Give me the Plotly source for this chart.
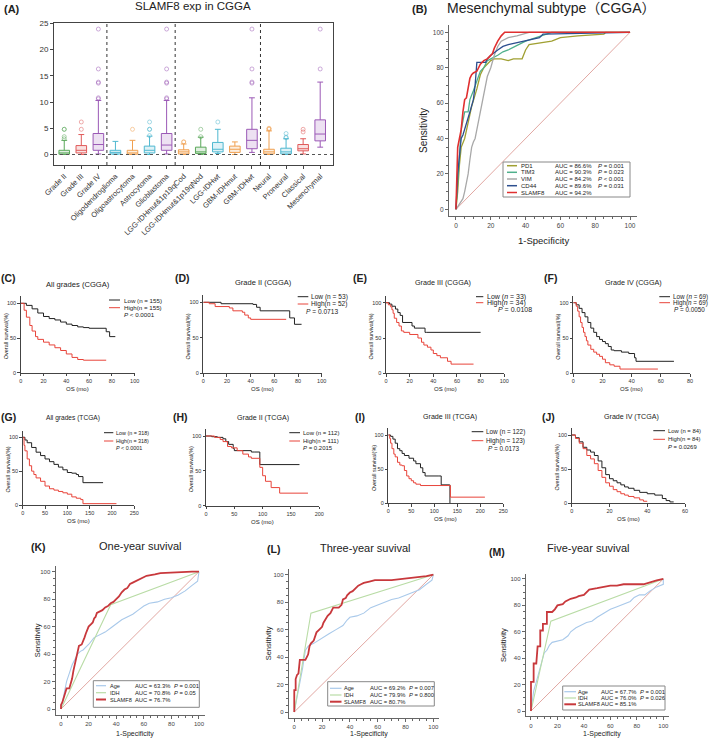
import plotly.graph_objects as go

W, H = 709, 738
FONT = "Arial, Liberation Sans, Noto Sans CJK SC, sans-serif"

# ---------------- Panel A data ----------------
a_cats = ["Grade II", "Grade III", "Grade IV", "Oligodendroglioma", "Oligoastrocytoma",
          "Astrocytoma", "Glioblastoma", "LGG-IDHmut&1p19qCod", "LGG-IDHmut&1p19qNod",
          "LGG-IDHwt", "GBM-IDHmut", "GBM-IDHwt", "Neural", "Proneural", "Classical", "Mesenchymal"]
a_q1 = [0.05, 0.3, 0.8, 0.1, 0.05, 0.3, 0.8, 0.1, 0.2, 0.5, 0.4, 1.1, 0.1, 0.1, 0.7, 2.6]
a_med = [0.3, 0.8, 1.9, 0.4, 0.3, 0.8, 1.8, 0.5, 0.5, 1.0, 1.0, 2.7, 0.5, 0.5, 1.1, 3.9]
a_q3 = [0.8, 1.7, 4.0, 0.8, 0.8, 1.6, 4.0, 0.9, 1.4, 2.3, 1.6, 4.8, 1.0, 1.2, 1.9, 6.6]
a_lo = [0.0, 0.0, 0.1, 0.0, 0.0, 0.0, 0.1, 0.0, 0.0, 0.2, 0.0, 0.4, 0.0, 0.0, 0.1, 1.4]
a_hi = [2.7, 3.8, 10.3, 2.5, 2.7, 3.5, 10.3, 2.0, 3.3, 4.8, 2.4, 10.8, 4.5, 3.0, 3.0, 13.8]
a_out = [[3.0, 3.4, 4.8, 4.8], [4.8, 6.2], [10.6, 10.8, 13.6, 13.8, 16.3, 23.9],
         [], [4.8], [3.6, 4.8, 4.8, 6.2], [10.6, 10.8, 13.6, 13.8, 16.3, 23.9],
         [2.4, 2.4], [3.4, 4.8], [6.2], [], [13.6, 13.8, 16.3, 23.9],
         [4.8, 5.0, 4.9], [3.2, 3.3, 4.0], [4.3, 4.8], [16.3, 23.9]]
a_cols = ["#5aa85a", "#e05a5a", "#9b59b6", "#4fb8d0", "#f0a050", "#4fb8d0", "#9b59b6",
          "#f0a050", "#5aa85a", "#4fb8d0", "#f0a050", "#9b59b6", "#f0a050", "#4fb8d0", "#e05a5a", "#9b59b6"]
a_seps = [2.5, 6.5, 11.5]

# ---------------- Panel B data ----------------
b_names = ["PD1", "TIM3", "VIM", "CD44", "SLAMF8"]
b_auc = ["AUC = 86.6%", "AUC = 90.3%", "AUC = 84.2%", "AUC = 89.6%", "AUC = 94.2%"]
b_p = ["<i>P</i> = 0.001", "<i>P</i> = 0.023", "<i>P</i> < 0.001", "<i>P</i> = 0.031", ""]
b_cols = ["#a0a032", "#4fb08c", "#a8a8a8", "#2d4f8f", "#e03030"]
b_x = [
    [0, 1, 2, 3, 5, 7, 9, 12, 14, 16, 18, 20, 22, 26, 30, 33, 38, 40, 42, 48, 55, 60, 70, 85, 86, 100],
    [0, 1, 2, 3, 4, 5, 7, 8, 10, 12, 14, 16, 18, 20, 24, 27, 30, 34, 40, 46, 52, 55, 100],
    [0, 2, 4, 5, 6, 7, 8, 9, 10, 11, 12, 13, 14, 15, 16, 17, 18, 20, 21, 22, 24, 26, 30, 35, 42, 100],
    [0, 1, 2, 3, 4, 5, 6, 8, 10, 11, 12, 14, 17, 18, 20, 24, 27, 30, 35, 40, 45, 48, 50, 100],
    [0, 0.5, 1, 2, 3, 4, 4.5, 5, 6, 7, 8, 9, 10, 12, 13, 14, 16, 18, 19, 21, 22, 24, 26, 28, 100],
]
b_y = [
    [0, 10, 25, 35, 40, 50, 58, 68, 76, 80, 82, 84, 85, 85, 84, 85, 85, 90, 93, 94, 95, 97, 98, 99, 100, 100],
    [0, 15, 30, 45, 50, 55, 55, 62, 67, 72, 78, 80, 84, 85, 87, 89, 90, 92, 95, 97, 99, 100, 100],
    [0, 3, 6, 10, 15, 20, 28, 35, 38, 40, 45, 50, 55, 60, 65, 72, 75, 80, 84, 87, 92, 95, 97, 98, 100, 100],
    [0, 20, 30, 40, 42, 45, 48, 55, 62, 70, 83, 83, 83, 85, 87, 90, 92, 93, 94, 95, 96, 97, 99, 100],
    [0, 30, 35, 40, 45, 55, 58, 62, 63, 70, 74, 76, 77, 78, 80, 82, 84, 85, 86, 88, 91, 95, 98, 100, 100],
]

# ---------------- KM panels data ----------------
km_titles = ["All grades (CGGA)", "Grade II (CGGA)", "Grade III (CGGA)", "Grade IV (CGGA)",
             "All grades (TCGA)", "Grade II (TCGA)", "Grade III (TCGA)", "Grade IV (TCGA)"]
km_labels = ["(C)", "(D)", "(E)", "(F)", "(G)", "(H)", "(I)", "(J)"]
km_low_txt = ["Low (n = 155)", "Low (n = 53)", "Low (<i>n</i> = 33)", "Low (<i>n</i> = 69)",
              "Low (n = 318)", "Low (n = 112)", "Low (n = 122)", "Low (n = 84)"]
km_high_txt = ["High(n = 155)", "High(n = 52)", "High(<i>n</i> = 34)", "High(<i>n</i> = 69)",
               "High(n = 318)", "High(n = 111)", "High(n = 123)", "High(n = 84)"]
km_p = ["<i>P</i> < 0.0001", "<i>P</i> = 0.0713", "<i>P</i> = 0.0108", "<i>P</i> = 0.0050",
        "<i>P</i> < 0.0001", "<i>P</i> = 0.2015", "<i>P</i> = 0.0173", "<i>P</i> = 0.0269"]
km_xmax = [100, 100, 100, 80, 250, 200, 250, 60]
km_dtick = [20, 20, 20, 20, 50, 50, 50, 20]
km_low_x = [
    [0, 5, 10, 15, 20, 25, 30, 35, 40, 45, 50, 55, 60, 75, 78, 83],
    [0, 15, 42, 45, 48, 73, 77, 83],
    [0, 3, 5, 8, 10, 12, 14, 22, 24, 27, 33, 34, 80],
    [0, 2, 4, 6, 8, 10, 12, 14, 16, 18, 20, 22, 24, 26, 28, 33, 38, 42, 43, 69],
    [0, 5, 10, 20, 30, 40, 50, 60, 70, 80, 90, 100, 110, 120, 125, 135, 180],
    [0, 10, 20, 30, 35, 40, 48, 50, 80, 85, 95, 165],
    [0, 5, 10, 15, 20, 25, 30, 35, 45, 55, 60, 70, 75, 80, 110, 115, 133, 134],
    [0, 2, 4, 6, 8, 10, 12, 14, 16, 18, 20, 22, 24, 26, 28, 30, 33, 36, 40, 44, 48, 50, 52, 54],
]
km_low_y = [
    [100, 97, 92, 86, 81, 78, 76, 73, 70, 68, 66, 65, 64, 59, 52, 52],
    [100, 98, 97, 93, 88, 78, 69, 69],
    [100, 98, 95, 91, 86, 82, 72, 67, 64, 64, 58, 58, 58],
    [100, 97, 92, 86, 80, 72, 64, 58, 52, 48, 45, 42, 38, 33, 32, 30, 28, 22, 17, 17],
    [100, 96, 92, 85, 78, 73, 68, 64, 60, 56, 52, 48, 47, 45, 42, 33, 33],
    [100, 99, 98, 96, 92, 88, 82, 79, 77, 77, 59, 59],
    [100, 98, 94, 88, 80, 77, 73, 70, 66, 62, 58, 52, 45, 40, 40, 27, 27, 0],
    [100, 96, 90, 82, 78, 75, 70, 62, 52, 42, 36, 33, 30, 27, 24, 22, 19, 16, 14, 12, 7, 4, 2, 2],
]
km_high_x = [
    [0, 3, 5, 8, 10, 13, 15, 20, 25, 30, 35, 40, 45, 50, 55, 75],
    [0, 5, 10, 22, 25, 33, 35, 38, 40, 70],
    [0, 2, 4, 5, 6, 7, 9, 11, 13, 15, 20, 27, 30, 32, 35, 38, 40, 43, 46, 52, 55, 74],
    [0, 2, 3, 4, 5, 6, 7, 8, 9, 10, 12, 14, 16, 18, 20, 22, 25, 28, 32, 58],
    [0, 3, 5, 10, 15, 20, 25, 30, 40, 50, 60, 70, 80, 90, 100, 110, 120, 130, 135, 210],
    [0, 15, 25, 30, 38, 45, 55, 65, 75, 80, 95, 100, 105, 115, 130, 180],
    [0, 3, 5, 8, 12, 15, 20, 25, 30, 35, 40, 45, 50, 55, 60, 70, 135, 210],
    [0, 2, 4, 6, 8, 10, 12, 14, 16, 18, 20, 22, 24, 26, 28, 30, 33, 36, 38, 40],
]
km_high_y = [
    [100, 90, 80, 68, 60, 52, 48, 44, 40, 36, 32, 27, 22, 19, 18, 18],
    [100, 98, 94, 92, 88, 86, 82, 78, 76, 76],
    [100, 97, 94, 90, 85, 78, 72, 67, 60, 58, 55, 50, 44, 40, 37, 33, 28, 25, 22, 17, 13, 13],
    [100, 95, 88, 80, 72, 65, 58, 52, 46, 40, 34, 30, 27, 24, 20, 15, 12, 10, 6, 6],
    [100, 88, 80, 68, 58, 50, 45, 40, 35, 28, 24, 22, 20, 18, 16, 12, 10, 8, 2, 2],
    [100, 98, 95, 92, 85, 83, 79, 74, 70, 68, 55, 43, 35, 26, 18, 18],
    [100, 95, 88, 80, 72, 68, 60, 56, 55, 48, 40, 36, 33, 30, 28, 26, 9, 9],
    [100, 95, 88, 80, 70, 65, 58, 48, 38, 30, 25, 20, 17, 14, 12, 10, 8, 5, 3, 3],
]

# ---------------- K/L/M ROC data ----------------
roc_titles = ["One-year suvival", "Three-year suvival", "Five-year suvival"]
roc_labels = ["(K)", "(L)", "(M)"]
roc_names = ["Age", "IDH", "SLAMF8"]
roc_cols = ["#a9c9ea", "#b9dca6", "#c8383c"]
roc_auc = [["AUC = 63.3%", "AUC = 70.8%", "AUC = 76.7%"],
           ["AUC = 69.2%", "AUC = 79.9%", "AUC = 80.7%"],
           ["AUC = 67.7%", "AUC = 76.0%", "AUC = 85.1%"]]
roc_p = [["<i>P</i> = 0.001", "<i>P</i> = 0.05", ""],
         ["<i>P</i> = 0.007", "<i>P</i> = 0.800", ""],
         ["<i>P</i> = 0.001", "<i>P</i> = 0.026", ""]]
age_x = [
    [0, 2, 4, 6, 8, 10, 12, 14, 16, 18, 20, 24, 28, 32, 36, 40, 44, 48, 52, 56, 60, 64, 70, 75, 80, 85, 90, 95, 99, 100],
    [0, 2, 4, 6, 8, 10, 14, 20, 25, 30, 35, 38, 40, 45, 50, 55, 60, 65, 70, 75, 80, 85, 90, 95, 99, 100],
    [0, 2, 4, 6, 8, 10, 12, 14, 16, 20, 24, 28, 30, 34, 38, 42, 46, 50, 55, 60, 65, 70, 75, 78, 82, 86, 90, 95, 100, 100],
]
age_y = [
    [0, 10, 20, 26, 32, 36, 40, 42, 43, 45, 47, 52, 54, 56, 59, 62, 65, 67, 69, 72, 75, 77, 78, 80, 81, 83, 86, 90, 93, 100],
    [0, 10, 22, 32, 45, 48, 50, 54, 57, 60, 63, 67, 69, 70, 72, 76, 78, 80, 82, 83, 85, 87, 89, 93, 96, 100],
    [0, 15, 22, 30, 38, 44, 46, 50, 52, 53, 54, 57, 60, 63, 65, 67, 68, 71, 74, 77, 79, 81, 83, 86, 88, 88, 91, 94, 96, 100],
]
idh_x = [[0, 36, 100], [0, 12, 100], [0, 15, 100]]
idh_y = [[0, 76, 100], [0, 72, 100], [0, 68, 100]]
sl_x = [
    [0, 0, 1, 2, 3, 4, 6, 7, 8, 9, 10, 11, 12, 13, 15, 16, 17, 18, 19, 20, 22, 23, 24, 25, 26, 28, 30, 32, 34, 36, 38, 40, 42, 44, 46, 48, 50, 52, 54, 56, 58, 62, 68, 72, 95, 100],
    [0, 0, 1, 1, 2, 3, 4, 8, 9, 10, 11, 12, 14, 15, 16, 18, 20, 21, 22, 24, 26, 27, 28, 32, 34, 35, 37, 38, 40, 42, 44, 46, 48, 50, 54, 58, 70, 80, 90, 95, 100],
    [0, 0, 2, 2, 4, 5, 7, 7, 9, 9, 12, 12, 16, 18, 20, 24, 26, 28, 30, 34, 36, 40, 42, 44, 50, 54, 60, 65, 70, 85, 88, 92, 95, 100],
]
sl_y = [
    [0, 3, 5, 8, 12, 15, 15, 18, 22, 28, 32, 36, 42, 46, 47, 49, 52, 55, 58, 60, 62, 63, 66, 67, 70, 71, 72, 74, 75, 77, 78, 80, 82, 85, 87, 88, 91, 92, 93, 94, 95, 97, 98, 99, 100, 100],
    [0, 16, 16, 24, 27, 28, 38, 38, 40, 42, 48, 50, 52, 55, 58, 60, 62, 65, 67, 70, 72, 74, 76, 76, 78, 82, 83, 85, 87, 88, 90, 92, 93, 94, 95, 96, 96, 97, 98, 99, 100],
    [0, 22, 22, 36, 36, 49, 49, 61, 61, 66, 66, 75, 75, 77, 80, 81, 83, 84, 85, 86, 87, 88, 90, 92, 93, 94, 95, 95, 96, 96, 97, 98, 99, 100],
]

# ================= layout helpers =================
fig = go.Figure()
layout = dict(template="none", width=W, height=H, autosize=False, margin=dict(l=0, r=0, t=0, b=0, pad=0),
              paper_bgcolor="white", plot_bgcolor="white", showlegend=False, hovermode=False,
              font=dict(family=FONT, color="#222"))
annotations = []
shapes = []
axis_n = [0]


def px2paper(x, y):
    return x / W, 1 - y / H


def new_axes(x0, x1, y0, y1, xa, ya):
    axis_n[0] += 1
    n = axis_n[0]
    xk = "xaxis" if n == 1 else f"xaxis{n}"
    yk = "yaxis" if n == 1 else f"yaxis{n}"
    xref = "x" if n == 1 else f"x{n}"
    yref = "y" if n == 1 else f"y{n}"
    xd = dict(domain=[x0 / W, x1 / W], anchor=yref, automargin=False, **xa)
    yd = dict(domain=[1 - y1 / H, 1 - y0 / H], anchor=xref, automargin=False, **ya)
    layout[xk] = xd
    layout[yk] = yd
    return xref, yref


def text(x, y, s, size, bold=False, xanchor="center", angle=0, color="#222", yanchor="middle"):
    px, py = px2paper(x, y)
    if bold:
        s = f"<b>{s}</b>"
    annotations.append(dict(x=px, y=py, xref="paper", yref="paper", text=s, showarrow=False,
                            xanchor=xanchor, yanchor=yanchor, textangle=angle, borderpad=0,
                            font=dict(size=size, color=color, family=FONT)))


def pline(x0, x1, y, color, width):
    a0, b0 = px2paper(x0, y)
    a1, _ = px2paper(x1, y)
    shapes.append(dict(type="line", xref="paper", yref="paper", x0=a0, x1=a1, y0=b0, y1=b0,
                       line=dict(color=color, width=width)))


def prect(x0, x1, y0, y1, color):
    a0, b0 = px2paper(x0, y0)
    a1, b1 = px2paper(x1, y1)
    shapes.append(dict(type="rect", xref="paper", yref="paper", x0=a0, x1=a1, y0=b1, y1=b0,
                       line=dict(color=color, width=1)))


def rgba(hexc, a):
    h = hexc.lstrip("#")
    r, g, b = int(h[0:2], 16), int(h[2:4], 16), int(h[4:6], 16)
    return f"rgba({r},{g},{b},{a})"

# ================= Panel A =================
xa = dict(range=[-0.6, 15.75], tickvals=list(range(len(a_cats))), ticktext=a_cats, tickangle=-45,
          showline=True, linecolor="#444", linewidth=1, mirror=True, ticks="outside", ticklen=3,
          tickcolor="#444", tickfont=dict(size=7.5, color="#333"), showgrid=False, zeroline=False)
ya = dict(range=[-2, 25], tickvals=[0, 5, 10, 15, 20, 25], showline=True, linecolor="#444", linewidth=1,
          mirror=True, ticks="outside", ticklen=3, tickcolor="#444", tickfont=dict(size=8, color="#333"),
          showgrid=False, zeroline=False)
xr, yr = new_axes(54, 333, 23.3, 165, xa, ya)
for i, c in enumerate(a_cats):
    fig.add_trace(go.Box(x=[i], q1=[a_q1[i]], median=[a_med[i]], q3=[a_q3[i]], lowerfence=[a_lo[i]],
                         upperfence=[a_hi[i]], width=0.62, whiskerwidth=0.55,
                         line=dict(color=a_cols[i], width=1), fillcolor=rgba(a_cols[i], 0.18),
                         boxpoints=False, xaxis=xr, yaxis=yr, name=c))
    if a_out[i]:
        fig.add_trace(go.Scatter(x=[i] * len(a_out[i]), y=a_out[i], mode="markers",
                                 marker=dict(symbol="circle-open", size=4, color=rgba(a_cols[i], 0.5), line=dict(width=1)),
                                 xaxis=xr, yaxis=yr))
for s in a_seps:
    shapes.append(dict(type="line", xref=xr, yref=yr, x0=s, x1=s, y0=-2, y1=25,
                       line=dict(color="#333", width=1, dash="dot")))
shapes.append(dict(type="line", xref=xr, yref=yr, x0=-0.6, x1=15.75, y0=0, y1=0,
                   line=dict(color="#555", width=1, dash="dot")))
text(3, 9, "(A)", 11, bold=True, xanchor="left")
text(193, 6, "SLAMF8 exp in CGGA", 11.5)

# ================= Panel B =================
def roc_axes(x0, x1, y0, y1, fs):
    common = dict(range=[-4, 104], tickvals=[0, 20, 40, 60, 80, 100], showline=True, linecolor="#666",
                  linewidth=1, ticks="outside", ticklen=3, tickcolor="#666", showgrid=False, zeroline=False,
                  tickfont=dict(size=fs, color="#444"),
                  minor=dict(dtick=5, ticks="outside", ticklen=2, tickcolor="#666", showgrid=False))
    return new_axes(x0, x1, y0, y1, dict(common), dict(common))


xr, yr = roc_axes(449, 637, 25.2, 216.4, 6.5)
fig.add_trace(go.Scatter(x=[0, 100], y=[0, 100], mode="lines", line=dict(color="#d9908a", width=0.8),
                         xaxis=xr, yaxis=yr))
for i in range(5):
    fig.add_trace(go.Scatter(x=b_x[i], y=b_y[i], mode="lines", line=dict(color=b_cols[i], width=1.3 if i < 4 else 1.6),
                             xaxis=xr, yaxis=yr, name=b_names[i]))
text(420, 9, "(B)", 11, bold=True)
text(551, 8, "Mesenchymal subtype（CGGA）", 14)
text(423, 131, "Sensitivity", 10, angle=-90)
text(543, 241, "1-Specificity", 9.5)
prect(503, 630, 162, 197, "#888")
rows = [165.7, 172.3, 179, 185.7, 192.5]
for i in range(5):
    pline(507, 517, rows[i], b_cols[i], 1.5)
    text(519.5, rows[i], b_names[i], 6, xanchor="left")
    text(554, rows[i], b_auc[i], 6, xanchor="left")
    if b_p[i]:
        text(596.5, rows[i], b_p[i], 6, xanchor="left")

# ================= KM panels =================
km_boxes = [  # x0, x1(at xmax), y_zero_px, y_100_px
    (20.7, 134.7, 372.7, 303.3), (203.3, 321.7, 373.3, 302.3), (386, 504.3, 373.3, 302.7), (573.3, 690, 373.3, 302.7),
    (22.7, 134.3, 505, 437.3), (206, 319.3, 505.7, 436), (388.3, 503.3, 503.3, 435), (571.7, 685, 503.3, 435),
]
km_title_pos = [(78, 284), (263, 283), (443, 283), (633, 283), (73, 418), (263, 418), (450, 417), (631, 417)]
km_title_fs = [7.6, 7.5, 7.2, 7.2, 6.6, 7.1, 7.1, 7.1]
km_lab_pos = [(8, 278), (182, 278), (360, 278), (550, 278), (8, 417), (180, 417), (360, 417), (548, 417)]
km_leg_fs = [6.2, 6.6, 7.0, 6.3, 5.4, 6.0, 6.4, 5.9]
km_leg = [  # line x0, x1, text x, y low, y high, p x, p y
    (109, 120, 123, 300, 307.7, 123, 315),
    (297.7, 308.3, 310, 296.7, 304, 305, 311.7),
    (476, 483.3, 486, 296.7, 302.7, 496.7, 309.3),
    (659.3, 670, 671.7, 296.7, 302.7, 672.7, 309.3),
    (104, 113.3, 115, 432.7, 441, 115, 448.3),
    (289.3, 300, 301.7, 432.7, 441, 301.7, 448.3),
    (471.7, 483.3, 485, 431.7, 440.7, 486.7, 448.3),
    (653.3, 665, 666.7, 430.7, 439.3, 666.7, 447.3),
]
for k in range(8):
    x0, x1, yz, y100 = km_boxes[k]
    ytop = yz - 110 * (yz - y100) / 100
    xa = dict(range=[0, km_xmax[k]], dtick=km_dtick[k], tick0=0, showline=True, linecolor="#444", linewidth=1,
              ticks="outside", ticklen=2.5, tickcolor="#444", tickfont=dict(size=5.5, color="#333"),
              showgrid=False, zeroline=False)
    ya = dict(range=[0, 110], tickvals=[0, 50, 100], showline=True, linecolor="#444", linewidth=1,
              ticks="outside", ticklen=2.5, tickcolor="#444", tickfont=dict(size=5.5, color="#333"),
              showgrid=False, zeroline=False)
    xr, yr = new_axes(x0, x1, ytop, yz, xa, ya)
    fig.add_trace(go.Scatter(x=km_low_x[k], y=km_low_y[k], mode="lines", line=dict(color="#222", width=1, shape="hv"),
                             xaxis=xr, yaxis=yr))
    fig.add_trace(go.Scatter(x=km_high_x[k], y=km_high_y[k], mode="lines", line=dict(color="#e8443a", width=1, shape="hv"),
                             xaxis=xr, yaxis=yr))
    tx, ty = km_title_pos[k]
    text(tx, ty, km_titles[k], km_title_fs[k])
    lx, ly = km_lab_pos[k]
    text(lx, ly, km_labels[k], 10.5, bold=True)
    l0, l1, tx2, yl, yh, ppx, ppy = km_leg[k]
    pline(l0, l1, yl, "#222", 1)
    pline(l0, l1, yh, "#e8443a", 1)
    fs = km_leg_fs[k]
    text(tx2, yl, km_low_txt[k], fs, xanchor="left")
    text(tx2, yh, km_high_txt[k], fs, xanchor="left")
    text(ppx, ppy, km_p[k], fs, xanchor="left")
    text(x0 - 15, (yz + ytop) / 2 + 2, "Overall survival(%)", 5.5, angle=-90)
    text((x0 + x1) / 2, yz + 16, "OS (mo)", 6)

# ================= K/L/M =================
roc_boxes = [(55.5, 204.5, 566.2, 714.5), (288.7, 438.9, 569.2, 717.5), (525.7, 668.6, 573.7, 716.3)]
roc_title_pos = [(140, 546), (365, 548), (588, 548)]
roc_lab_pos = [(38, 547), (273, 549), (497, 552)]
roc_leg_box = [(93.3, 199.3, 680.7, 707.3), (327.7, 434.3, 681.7, 706), (562.7, 665, 686, 710)]
roc_leg_rows = [[685.7, 692.7, 699.5], [688.3, 695, 701.7], [691.7, 698, 704.3]]
roc_leg_x = [(96, 106, 108.5, 133.3, 172.7), (330, 341.5, 342.5, 368.3, 407.7), (564.3, 576, 577, 599.3, 639.3)]
roc_ylab_x = [37, 268, 503]
for k in range(3):
    x0, x1, y0, y1 = roc_boxes[k]
    xr, yr = roc_axes(x0, x1, y0, y1, 6)
    fig.add_trace(go.Scatter(x=[0, 100], y=[0, 100], mode="lines", line=dict(color="#d9908a", width=0.8),
                             xaxis=xr, yaxis=yr))
    fig.add_trace(go.Scatter(x=age_x[k], y=age_y[k], mode="lines", line=dict(color=roc_cols[0], width=1.1),
                             xaxis=xr, yaxis=yr))
    fig.add_trace(go.Scatter(x=idh_x[k], y=idh_y[k], mode="lines", line=dict(color=roc_cols[1], width=1.1),
                             xaxis=xr, yaxis=yr))
    fig.add_trace(go.Scatter(x=sl_x[k], y=sl_y[k], mode="lines", line=dict(color=roc_cols[2], width=1.8),
                             xaxis=xr, yaxis=yr))
    tx, ty = roc_title_pos[k]
    text(tx, ty, roc_titles[k], 11)
    lx, ly = roc_lab_pos[k]
    text(lx, ly, roc_labels[k], 10.5, bold=True)
    text(roc_ylab_x[k], (y0 + y1) / 2, "Sensitivity", 7.5, angle=-90)
    text((x0 + x1) / 2 + 5, 733.5, "1-Specificity", 7)
    bx0, bx1, by0, by1 = roc_leg_box[k]
    prect(bx0, bx1, by0, by1, "#888")
    lx0, lx1, ntx, atx, ptx = roc_leg_x[k]
    for i in range(3):
        yy = roc_leg_rows[k][i]
        pline(lx0, lx1, yy, roc_cols[i], 1.2 if i < 2 else 2)
        text(ntx, yy, roc_names[i], 5.6, xanchor="left")
        text(atx + 1, yy, roc_auc[k][i], 5.8, xanchor="left")
        if roc_p[k][i]:
            text(ptx, yy, roc_p[k][i], 5.8, xanchor="left")

layout["annotations"] = annotations
layout["shapes"] = shapes
fig.update_layout(**layout)
fig.write_html("out.html", config={"displayModeBar": False, "staticPlot": True},
               post_script="document.body.style.margin='0';document.body.style.padding='0';document.body.style.overflow='hidden';")
